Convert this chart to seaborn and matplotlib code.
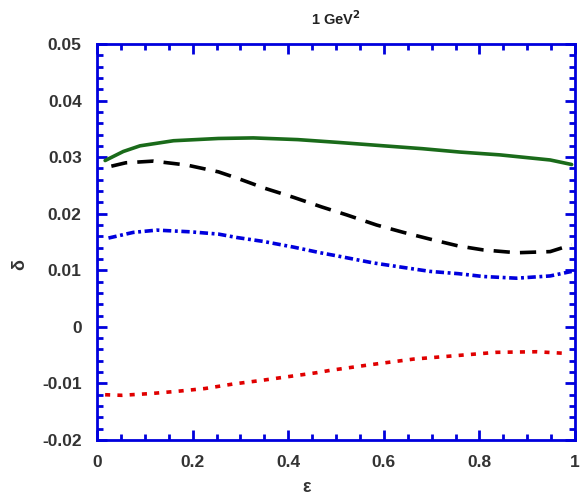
import matplotlib
matplotlib.use("Agg")
import matplotlib.pyplot as plt
import seaborn as sns
from matplotlib.ticker import MultipleLocator

# values
eps_green = [0.017, 0.055, 0.09, 0.16, 0.254, 0.327, 0.42, 0.505, 0.6, 0.68, 0.759, 0.843, 0.948, 0.993]
d_green = [0.0294, 0.0310, 0.0320, 0.0329, 0.0333, 0.0334, 0.0331, 0.0326, 0.0320, 0.0315, 0.0309, 0.0304, 0.0295, 0.0287]

eps_black = [0.03, 0.06, 0.118, 0.188, 0.254, 0.296, 0.351, 0.411, 0.47, 0.522, 0.585, 0.641, 0.697, 0.756, 0.808, 0.878, 0.948, 0.993]
d_black = [0.0284, 0.0290, 0.0293, 0.0286, 0.0274, 0.0262, 0.0245, 0.0229, 0.0212, 0.0198, 0.0180, 0.0167, 0.0155, 0.0143, 0.0136, 0.0131, 0.0133, 0.0145]

eps_blue = [0.024, 0.076, 0.125, 0.195, 0.254, 0.292, 0.348, 0.411, 0.467, 0.505, 0.578, 0.641, 0.697, 0.756, 0.808, 0.878, 0.948, 0.993]
d_blue = [0.0157, 0.0167, 0.0171, 0.0168, 0.0164, 0.0158, 0.0151, 0.0141, 0.0131, 0.0125, 0.0113, 0.0105, 0.0098, 0.0094, 0.0089, 0.0086, 0.0090, 0.0098]

eps_red = [0.017, 0.052, 0.111, 0.167, 0.226, 0.285, 0.341, 0.4, 0.46, 0.487, 0.571, 0.662, 0.749, 0.836, 0.92, 0.983]
d_red = [-0.0120, -0.0121, -0.0118, -0.0114, -0.0109, -0.0101, -0.0095, -0.0088, -0.0081, -0.0077, -0.0067, -0.0057, -0.0051, -0.0045, -0.0044, -0.0047]

x_ticks = [0, 0.2, 0.4, 0.6, 0.8, 1]
x_labels = ['0', '0.2', '0.4', '0.6', '0.8', '1']
y_ticks = [-0.02, -0.01, 0, 0.01, 0.02, 0.03, 0.04, 0.05]
y_labels = ['-0.02', '-0.01', '0', '0.01', '0.02', '0.03', '0.04', '0.05']

sns.set_theme(style="white")
plt.rcParams['font.family'] = ['Liberation Sans', 'DejaVu Sans']

fig = plt.figure(figsize=(5.8, 4.95), dpi=100)
ax = fig.add_axes([97 / 580, 55 / 495, 478 / 580, 396 / 495])

sns.lineplot(x=eps_green, y=d_green, ax=ax, color='#1a6b1a', lw=2.6, sort=False)
sns.lineplot(x=eps_black, y=d_black, ax=ax, color='black', lw=2.6, sort=False).lines[-1].set_dashes([4.5, 2.8])
sns.lineplot(x=eps_blue, y=d_blue, ax=ax, color='#0000dd', lw=2.6, sort=False).lines[-1].set_dashes([2.3, 1.0, 0.8, 1.0])
sns.lineplot(x=eps_red, y=d_red, ax=ax, color='#e00000', lw=2.6, sort=False).lines[-1].set_dashes([1.4, 2.0])

ax.set_xlim(0, 1)
ax.set_ylim(-0.02, 0.05)
ax.set_xticks(x_ticks)
ax.set_xticklabels(x_labels)
ax.set_yticks(y_ticks)
ax.set_yticklabels(y_labels)
ax.xaxis.set_minor_locator(MultipleLocator(0.05))
ax.yaxis.set_minor_locator(MultipleLocator(0.002))

for s in ax.spines.values():
    s.set_color('#0000dd')
    s.set_linewidth(2)
ax.tick_params(which='both', direction='in', color='#0000dd', top=True, right=True,
               bottom=True, left=True, width=2)
ax.tick_params(which='major', length=7, pad=11, labelsize=12.5, labelcolor='#333333')
ax.tick_params(which='minor', length=4)
for lab in ax.get_xticklabels() + ax.get_yticklabels():
    lab.set_fontweight('bold')

ax.set_title('1 GeV$^\\mathbf{2}$', fontsize=10.5, fontweight='bold', color='#222222', pad=14)
fig.text(307 / 580, 1 - 488 / 495, 'ε', ha='center', va='center', fontsize=13, fontweight='bold', color='#333333')
fig.text(20 / 580, 1 - 265 / 495, 'δ', ha='center', va='center', rotation=90, fontsize=13, fontweight='bold', color='#333333')

fig.savefig('out.png', dpi=100)
